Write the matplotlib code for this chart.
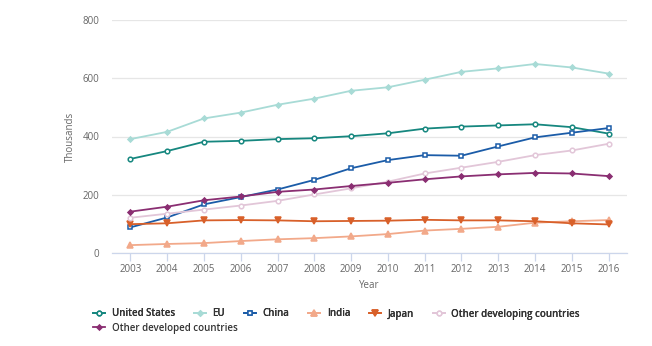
import matplotlib
matplotlib.use("Agg")
from matplotlib import pyplot as plt
from matplotlib.lines import Line2D

plt.rcParams['font.family'] = ['Open Sans', 'DejaVu Sans']

years = list(range(2003, 2017))

united_states = [323, 350, 382, 385, 391, 394, 401, 411, 427, 434, 438, 442, 432, 410]
eu = [391, 416, 462, 482, 509, 530, 557, 569, 595, 622, 634, 649, 637, 616]
china = [88, 122, 167, 192, 218, 251, 291, 319, 336, 334, 366, 397, 413, 429]
india = [27, 31, 34, 41, 47, 51, 57, 65, 77, 83, 90, 104, 109, 113]
japan = [99, 102, 112, 113, 112, 109, 110, 111, 114, 112, 112, 109, 102, 98]
other_developing = [121, 135, 149, 163, 179, 201, 222, 245, 273, 293, 313, 336, 352, 375]
other_developed = [142, 159, 181, 194, 210, 218, 230, 241, 253, 263, 270, 275, 273, 264]

yticks = [0, 200, 400, 600, 800]

# (label, values, colour, marker, hollow marker?)
series = [
    ("United States", united_states, "#16877f", "o", True),
    ("EU", eu, "#a8dbd6", "D", False),
    ("China", china, "#1b5ca8", "s", True),
    ("India", india, "#f2a98a", "^", False),
    ("Japan", japan, "#d8602a", "v", False),
    ("Other developing countries", other_developing, "#e2c6d8", "o", True),
    ("Other developed countries", other_developed, "#8a2e72", "D", False),
]

# draw order: light lines behind the darker ones
draw_order = [1, 5, 3, 4, 6, 2, 0]

fig = plt.figure(figsize=(6.52, 3.46), dpi=100)
ax = fig.add_axes([112 / 652, 1 - 253 / 346, 515 / 652, 233 / 346])


def marker_style(col, mk, hollow):
    ms = {"D": 2.6, "o": 3.3, "s": 3.2}.get(mk, 3.8)
    return dict(color=col, lw=1.3, marker=mk, ms=ms,
                markerfacecolor="white" if hollow else col,
                markeredgecolor=col, markeredgewidth=1.1)


handles = {}
for i in draw_order:
    name, vals, col, mk, hollow = series[i]
    ax.plot(years, vals, zorder=3 + i * 0.1, **marker_style(col, mk, hollow))
    handles[name] = Line2D([], [], **marker_style(col, mk, hollow))

ax.set_xlim(2002.5, 2016.5)
ax.set_ylim(0, 800)
ax.set_xticks(years)
ax.set_yticks(yticks)
ax.set_yticklabels([str(v) for v in yticks])

for s in ["top", "right", "left"]:
    ax.spines[s].set_visible(False)
ax.spines["bottom"].set_color("#ccd6eb")
ax.spines["bottom"].set_linewidth(0.9)
ax.yaxis.grid(True, color="#e6e6e6", lw=0.9)
ax.set_axisbelow(True)
ax.tick_params(axis="y", length=0, pad=9, labelsize=7, labelcolor="#666666")
ax.tick_params(axis="x", length=6, color="#ccd6eb", width=0.9, pad=2,
               labelsize=7, labelcolor="#666666")

ax.set_ylabel("Thousands", fontsize=7, color="#666666", labelpad=5)
fig.text(369 / 652, 1 - 285 / 346, "Year", fontsize=7, color="#666666",
         ha="center", va="center")

leg_kw = dict(frameon=False, handlelength=1.25, handletextpad=0.7,
              borderaxespad=0, borderpad=0, prop={"size": 7, "weight": "semibold"})

top_names = [s[0] for s in series[:6]]
leg1 = fig.legend([handles[n] for n in top_names], top_names, ncol=6,
                  loc="center left", bbox_to_anchor=(93 / 652, 1 - 314 / 346),
                  columnspacing=1.9, **leg_kw)
for t in leg1.get_texts():
    t.set_color("#333333")
leg2 = fig.legend([handles["Other developed countries"]], ["Other developed countries"],
                  loc="center left", bbox_to_anchor=(93 / 652, 1 - 328 / 346), **leg_kw)
for t in leg2.get_texts():
    t.set_color("#333333")
fig.add_artist(leg1)

fig.savefig("out.png", dpi=100)
